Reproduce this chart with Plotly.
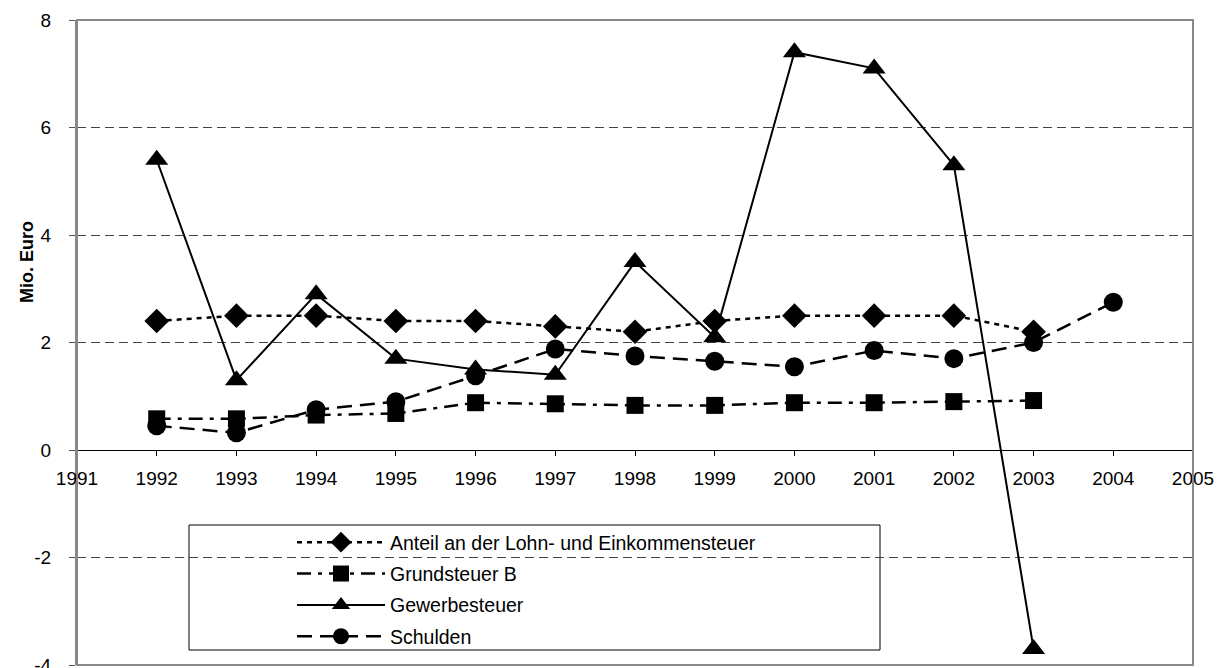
import plotly.graph_objects as go

years = [1992, 1993, 1994, 1995, 1996, 1997, 1998, 1999, 2000, 2001, 2002, 2003]
years_schulden = [1992, 1993, 1994, 1995, 1996, 1997, 1998, 1999, 2000, 2001, 2002, 2003, 2004]

anteil = [2.4, 2.5, 2.5, 2.4, 2.4, 2.3, 2.2, 2.4, 2.5, 2.5, 2.5, 2.2]
grundsteuer_b = [0.58, 0.58, 0.65, 0.68, 0.88, 0.86, 0.83, 0.83, 0.88, 0.88, 0.9, 0.92]
gewerbesteuer = [5.4, 1.3, 2.9, 1.7, 1.5, 1.4, 3.5, 2.1, 7.4, 7.1, 5.3, -3.7]
schulden = [0.45, 0.32, 0.75, 0.9, 1.38, 1.88, 1.75, 1.65, 1.55, 1.85, 1.7, 2.0, 2.75]

x_ticks = list(range(1991, 2006))
y_ticks = [-4, -2, 0, 2, 4, 6, 8]

FONT = "Liberation Sans, Arial, sans-serif"

fig = go.Figure()
fig.add_trace(go.Scatter(
    x=years, y=anteil, name="Anteil an der Lohn- und Einkommensteuer",
    mode="lines+markers", legendgroup="a",
    line=dict(color="black", width=2.5, dash="5px,5px"),
    marker=dict(symbol="diamond", size=19, color="black")))
fig.add_trace(go.Scatter(
    x=years, y=grundsteuer_b, name="Grundsteuer B",
    mode="lines+markers", legendgroup="b",
    line=dict(color="black", width=2.5, dash="14px,7px,4px,7px"),
    marker=dict(symbol="square", size=17, color="black")))
fig.add_trace(go.Scatter(
    x=years, y=gewerbesteuer, name="Gewerbesteuer",
    mode="lines+markers", legendgroup="c",
    line=dict(color="black", width=2),
    marker=dict(symbol="triangle-up", size=20, color="black")))
fig.add_trace(go.Scatter(
    x=years_schulden, y=schulden, name="Schulden",
    mode="lines+markers", legendgroup="d",
    line=dict(color="black", width=2.5, dash="15px,8px"),
    marker=dict(symbol="circle", size=19, color="black")))

# legend frame (covers gridlines, below traces)
fig.add_shape(type="rect", xref="paper", yref="paper",
              x0=(189 - 77) / 1116, x1=(880 - 77) / 1116,
              y0=(665 - 650) / 645, y1=(665 - 525) / 645,
              line=dict(color="black", width=1), fillcolor="white", layer="between")
# plot frame
fig.add_shape(type="rect", xref="paper", yref="paper", x0=0, x1=1, y0=0, y1=1,
              line=dict(color="#888888", width=2), layer="above")

fig.add_annotation(text="<b>Mio. Euro</b>", xref="paper", yref="paper",
                   x=(15 - 77) / 1116, y=(665 - 262) / 645, textangle=-90,
                   showarrow=False, font=dict(family=FONT, size=18, color="black"))

fig.update_layout(
    width=1227, height=668,
    margin=dict(l=77, r=34, t=20, b=3, autoexpand=False),
    paper_bgcolor="white", plot_bgcolor="white",
    font=dict(family=FONT, size=18, color="black"),
    showlegend=True,
    legend=dict(x=(292 - 77) / 1116, y=(665 - 523) / 645, xanchor="left", yanchor="top",
                bgcolor="rgba(0,0,0,0)", borderwidth=0, itemwidth=88,
                tracegroupgap=3, font=dict(family=FONT, size=19.5, color="black")),
    xaxis=dict(range=[1991, 2005], tickvals=x_ticks, ticktext=[str(v) for v in x_ticks],
               showgrid=False, zeroline=False, anchor="free", position=1/3,
               showline=True, linecolor="black", linewidth=1, automargin=False,
               ticks="outside", ticklen=5, tickcolor="black", tickwidth=1,
               ticklabelstandoff=6,
               tickfont=dict(family=FONT, size=19, color="black")),
    yaxis=dict(range=[-4, 8], tickvals=y_ticks, ticktext=[str(v) for v in y_ticks],
               showgrid=True, gridcolor="#444444", griddash="9px,5px", gridwidth=1,
               zeroline=False, showline=True, linecolor="#888888", linewidth=2,
               ticks="outside", ticklen=6, tickcolor="#555555", automargin=False,
               ticklabelstandoff=14, ticklabeloverflow="allow",
               tickfont=dict(family=FONT, size=19, color="black")),
)

fig.write_html("out.html", config={"displayModeBar": False},
               post_script="document.body.style.margin='0px';")
